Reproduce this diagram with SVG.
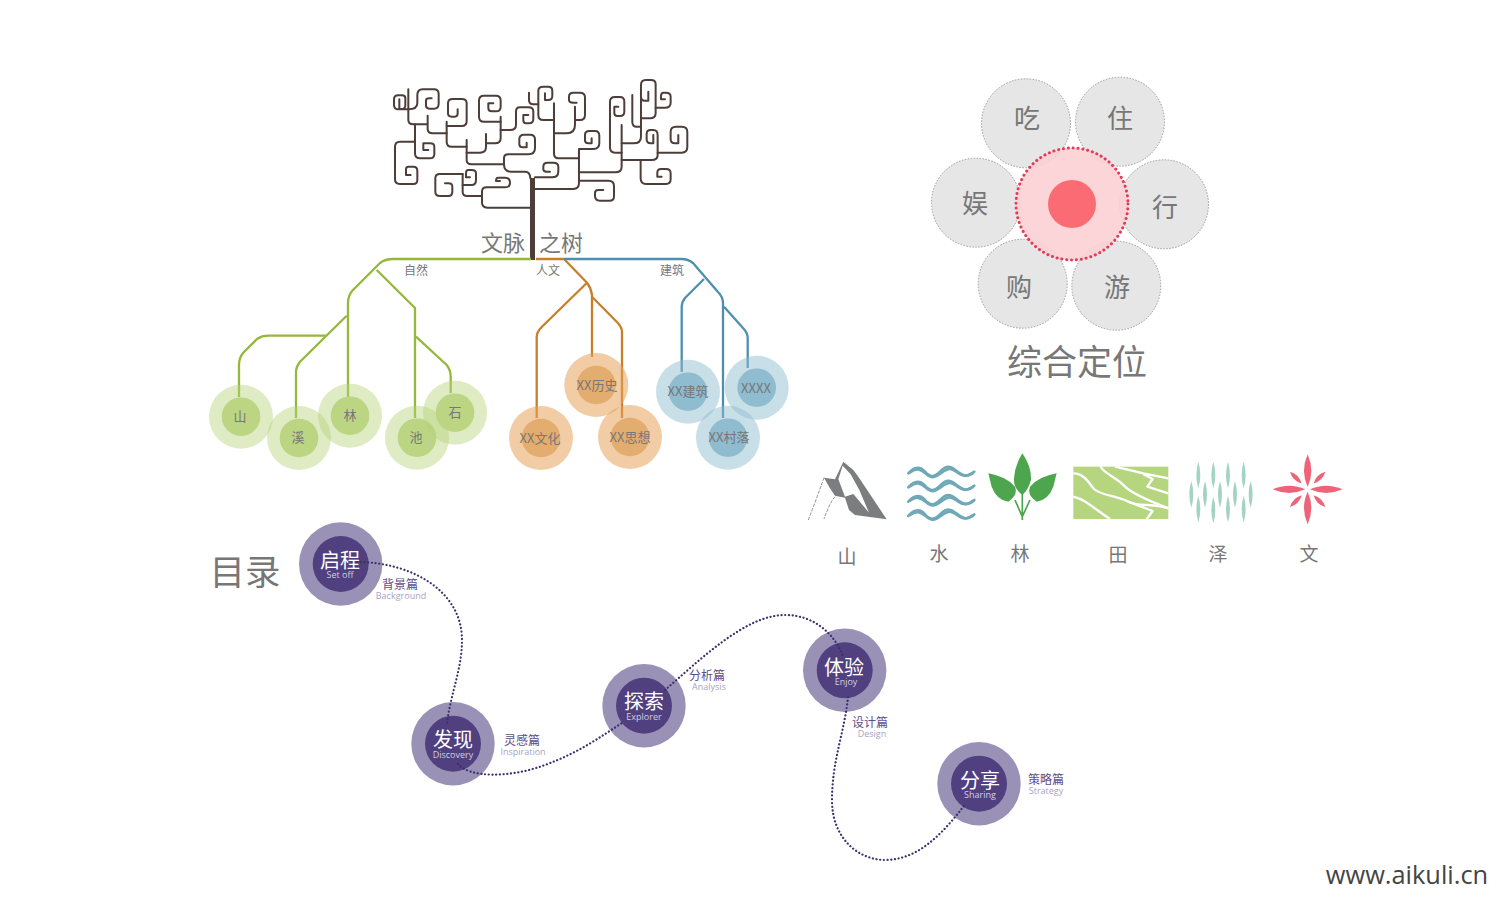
<svg xmlns="http://www.w3.org/2000/svg" xmlns:xlink="http://www.w3.org/1999/xlink" width="1500" height="900" viewBox="0 0 1500 900">
<style>
text{font-family:"Noto Sans CJK SC","Noto Sans",sans-serif;text-anchor:middle;dominant-baseline:central;fill:#777;transform:translateY(-1.500px)}
.tree path{fill:none;stroke:#4d3e3a;stroke-width:6;stroke-linecap:round;stroke-linejoin:round}
.line{fill:none;stroke-width:2.300;stroke-linejoin:round}
.g{stroke:#94b83a}.o{stroke:#c77f2a}.b{stroke:#4d90ad}
.go{fill:#b5d27a;opacity:.45}.gi{fill:#bbd583}
.oo{fill:#e6a25a;opacity:.55}.oi{fill:#e3ad6f}
.bo{fill:#8fbccf;opacity:.48}.bi{fill:#8fbccf}
.pet{fill:#e6e6e6;stroke:#999;stroke-width:1;stroke-dasharray:1.500 1.500}
.t13{font-size:13px}.t12{font-size:12px}.t26{font-size:26px}.t19{font-size:19px}
.po{fill:#9a92b6}.pi{fill:#50407f}
.pm{font-size:20px;fill:#fff}.ps{font-family:"Open Sans","Noto Sans",sans-serif;font-size:9px;fill:#d3cfe2}
.pl{font-size:12px;fill:#5d4e8b}.pe{font-family:"Open Sans","Noto Sans",sans-serif;font-size:9px;fill:#a8a3c3}
.dot{fill:none;stroke:#3b2f6e;stroke-width:2.200;stroke-linecap:round;stroke-dasharray:.1 3.600}
.fw{fill:none;stroke:#fff;stroke-width:7;stroke-linejoin:round}
.wv{fill:none;stroke:#6fa9b8;stroke-width:8;stroke-linecap:round}
</style>
<defs>
<path id="lens" d="M0-40Q12 0 0 40Q-12 0 0-40Z" fill="#a3d3c2"/>
<path id="wave" d="M325 85C345 62 362 65 375 80S400 100 420 80S450 62 470 78S505 98 523 80"/>
<path id="wave2" d="M330 82C348 68 362 72 378 86S402 100 424 84S452 68 474 84S506 90 520 82"/>
<path id="petal" d="M0-105Q22-55 0-7Q-22-55 0-105Z" fill="#ee6377"/>
<path id="petalS" d="M0-75Q14-50 0-25Q-14-50 0-75Z" fill="#ee6377"/>
</defs>

<g id="tree" class="tree" transform="translate(380 70) scale(.3333)">
<path d="M85 58V150Q85 163 100 163H143M143 137V178Q143 190 158 190H200"/>
<path d="M85 118H55Q42 118 42 104V88Q42 76 55 76H66Q76 76 76 84V105Q76 117 66 117H58V88"/>
<path d="M85 118Q112 118 112 100V75Q112 58 128 58H162Q176 58 176 72V102Q176 116 162 116H148Q138 116 138 106V92Q138 85 148 85H155"/>
<path d="M105 163V250Q105 265 120 265H150Q163 265 163 252V230Q163 220 150 220H130V240H145"/>
<path d="M105 215H60Q45 215 45 230V328Q45 342 60 342H100Q112 342 112 330V302Q112 290 100 290H85Q78 290 78 298V315H92"/>
<path d="M200 155V215Q200 230 215 230H260"/>
<path d="M200 168H245Q260 168 260 153V100Q260 87 245 87H218Q204 87 204 100V130Q204 140 215 140H225Q233 140 233 130V118"/>
<path d="M260 210V270Q260 283 275 283H372"/>
<path d="M260 248H300Q318 248 318 232V192M318 220H345Q362 220 362 205V140"/>
<path d="M362 155H312Q297 155 297 140V92Q297 77 312 77H348Q362 77 362 92V110Q362 124 348 124H335Q325 124 325 114V100H340"/>
<path d="M362 180H390Q408 180 408 165V125Q408 112 420 112H445Q460 112 460 125V148Q460 160 447 160H438Q430 160 430 150V135H445"/>
<path d="M372 283V265Q372 253 385 253H445Q465 253 465 235V208Q465 194 450 194H432Q418 194 418 208V222Q418 232 428 232H440V218"/>
<path d="M372 283Q372 305 392 305H435Q451 305 451 325"/>
<path d="M465 322H515Q535 322 535 305V290Q535 278 520 278H502Q490 278 490 290V298Q490 305 500 305H510"/>
<path d="M451 413H322Q306 413 306 397V365Q306 352 320 352H375Q390 352 390 338Q390 323 375 323H355Q348 323 348 333H360"/>
<path d="M306 378H262Q248 378 248 365V312"/>
<path d="M248 312H180Q166 312 166 325V365Q166 378 180 378H205Q217 378 217 365V350Q217 340 205 340H195"/>
<path d="M248 345H275Q288 345 288 330V310Q288 300 275 300H265Q258 300 258 310V322H270"/>
<path d="M465 357H580Q597 357 597 340V237H640Q658 237 658 220V197Q658 183 645 183H628Q615 183 615 195V210Q615 220 625 220H635V205"/>
<path d="M597 265H535Q522 265 522 250V100"/>
<path d="M522 190H560Q585 190 585 165V110"/>
<path d="M585 150H600Q615 150 615 135V82Q615 68 600 68H580Q567 68 567 80V90Q567 98 580 98H590"/>
<path d="M522 150H490Q475 150 475 135V62Q475 50 490 50H505Q517 50 517 62V78Q517 90 505 90H495V70"/>
<path d="M475 103H460Q447 103 447 90V68"/>
<path d="M597 307H705Q725 307 725 290V165"/>
<path d="M725 248H705Q690 248 690 232V95Q690 81 705 81H720Q733 81 733 95V125Q733 138 720 138H712Q703 138 703 128V110H715"/>
<path d="M725 220H760Q783 220 783 200V80"/>
<path d="M783 170H770Q757 170 757 155V75"/>
<path d="M783 145H810Q827 145 827 130V42Q827 30 813 30H797Q783 30 783 45V80Q783 92 795 92H805V65"/>
<path d="M827 113H855Q872 113 872 98V80Q872 68 858 68H850Q843 68 843 80V88H855"/>
<path d="M597 332H685Q702 332 702 348V380Q702 392 688 392H660Q645 392 645 378V370Q645 360 655 360H670"/>
<path d="M725 270H815Q833 270 833 255V195Q833 180 820 180H812Q800 180 800 192V208Q800 220 812 220H820V195"/>
<path d="M833 248H905Q922 248 922 232V185Q922 170 905 170H888Q872 170 872 185V208Q872 220 885 220H895V195"/>
<path d="M782 270V325Q782 342 798 342H858Q872 342 872 328V310Q872 297 858 297H843Q832 297 832 308V320H845"/>
</g>
<rect id="trunk" x="530" y="178" width="5" height="82" fill="#4d3e3a"/>
<g id="tree-title"><text x="503" y="242" font-size="22">文脉</text><text x="561" y="242" font-size="22">之树</text></g>

<g id="connectors">
<path class="line g" d="M531 259H393Q385 259 380 263L353 290Q348 295 348 303V397"/>
<path class="line g" d="M376.700 270L415 308V418"/>
<path class="line g" d="M416 336.700L446.700 365Q450.700 370 450.700 377V393"/>
<path class="line g" d="M346.700 315.700L300 361.700Q296 367 296 372V418"/>
<path class="line g" d="M326 335.700H268Q262 335.700 257 339L243 353Q239 358 239 365V397"/>
<path class="line o" d="M536 259H564L587 282.700Q591 288 592 295V357"/>
<path class="line o" d="M587 282.700L541.700 327Q536.700 332 536.700 337V418"/>
<path class="line o" d="M592 296.700L616.700 321.700Q622 327 622 332V418"/>
<path class="line b" d="M564 259H681.700Q688 259 693 263L718 292Q723 297 723 303V418"/>
<path class="line b" d="M704 279L685 298Q681.700 302 681.700 307V372"/>
<path class="line b" d="M724 306.700L743 328Q747.700 333 747.700 338V368"/>
</g>
<g id="cat-labels"><text class="t12" x="416" y="271">自然</text><text class="t12" x="548" y="271">人文</text><text class="t12" x="672" y="271">建筑</text></g>

<g id="n-shan"><circle class="go" cx="241" cy="416.700" r="32"/><circle class="gi" cx="241" cy="416.700" r="19.300"/><text class="t13" x="240" y="417">山</text></g>
<g id="n-xi"><circle class="go" cx="299" cy="438" r="32"/><circle class="gi" cx="299" cy="438" r="19.300"/><text class="t13" x="298" y="438">溪</text></g>
<g id="n-lin"><circle class="go" cx="350" cy="415.700" r="32"/><circle class="gi" cx="350" cy="415.700" r="19.300"/><text class="t13" x="350" y="416">林</text></g>
<g id="n-chi"><circle class="go" cx="417" cy="437.700" r="32"/><circle class="gi" cx="417" cy="437.700" r="19.300"/><text class="t13" x="416" y="438">池</text></g>
<g id="n-shi"><circle class="go" cx="455" cy="412.700" r="32"/><circle class="gi" cx="455" cy="412.700" r="19.300"/><text class="t13" x="455" y="413">石</text></g>
<g id="n-lishi"><circle class="oo" cx="596.300" cy="385" r="32"/><circle class="oi" cx="596.300" cy="385" r="19.300"/><text class="t13" x="597" y="386">XX历史</text></g>
<g id="n-wenhua"><circle class="oo" cx="541" cy="438" r="32"/><circle class="oi" cx="541" cy="438" r="19.300"/><text class="t13" x="540" y="439">XX文化</text></g>
<g id="n-sixiang"><circle class="oo" cx="630" cy="437" r="32"/><circle class="oi" cx="630" cy="437" r="19.300"/><text class="t13" x="630" y="438">XX思想</text></g>
<g id="n-jianzhu"><circle class="bo" cx="688" cy="391.700" r="32"/><circle class="bi" cx="688" cy="391.700" r="19.300"/><text class="t13" x="688" y="392">XX建筑</text></g>
<g id="n-xxxx"><circle class="bo" cx="756.700" cy="387.700" r="32"/><circle class="bi" cx="756.700" cy="387.700" r="19.300"/><text class="t13" x="756" y="389">XXXX</text></g>
<g id="n-cunluo"><circle class="bo" cx="728" cy="437.700" r="32"/><circle class="bi" cx="728" cy="437.700" r="19.300"/><text class="t13" x="729" y="438">XX村落</text></g>

<g id="p-chi"><circle class="pet" cx="1026" cy="123.300" r="44.500"/><text class="t26" x="1027" y="118">吃</text></g>
<g id="p-zhu"><circle class="pet" cx="1120" cy="121.700" r="44.500"/><text class="t26" x="1120" y="118">住</text></g>
<g id="p-yu"><circle class="pet" cx="976" cy="202.700" r="44.500"/><text class="t26" x="975" y="203">娱</text></g>
<g id="p-xing"><circle class="pet" cx="1164" cy="204.300" r="44.500"/><text class="t26" x="1165" y="207">行</text></g>
<g id="p-gou"><circle class="pet" cx="1022.700" cy="283.700" r="44.500"/><text class="t26" x="1019" y="287">购</text></g>
<g id="p-you"><circle class="pet" cx="1116.300" cy="285.700" r="44.500"/><text class="t26" x="1117" y="287">游</text></g>
<g id="p-center">
<circle cx="1072" cy="204" r="56" fill="#fbd0d4" fill-opacity=".9" stroke="#e63a5a" stroke-width="3" stroke-linecap="round" stroke-dasharray=".1 4.800"/>
<circle cx="1072" cy="204" r="24" fill="#fb6b73"/>
</g>
<text id="pos-title" x="1077" y="361" font-size="35">综合定位</text>

<g id="sym-shan" transform="translate(800 445) scale(.3333)">
<path d="M72 98L105 103L130 50L160 75L175 95L260 223L165 210L147 195L135 158L105 152L90 130Z" fill="#7b7d7e"/>
<path d="M128 62L115 103L135 155L160 147L207 203L178 135L152 88Z" fill="#fff"/>
<path d="M72 98Q50 160 25 225M105 155Q88 175 72 222" fill="none" stroke="#777" stroke-width="2.500" stroke-dasharray="10 4"/>
</g>
<g id="sym-shui" class="wv" transform="translate(800 445) scale(.3333)">
<use href="#wave"/><use href="#wave2"/>
<use href="#wave" y="42"/><use href="#wave2" y="42"/>
<use href="#wave" y="85"/><use href="#wave2" y="85"/>
<use href="#wave" y="128"/><use href="#wave2" y="128"/>
</g>
<g id="sym-lin" transform="translate(800 445) scale(.3333)">
<path d="M667 25Q695 65 693 105Q685 135 667 150Q640 130 642 100Q645 60 667 25Z" fill="#4da64d"/>
<path d="M565 85Q620 95 645 125Q655 150 625 170Q590 165 575 125Z" fill="#4da64d"/>
<path d="M770 85Q715 95 690 125Q680 150 710 170Q745 165 760 125Z" fill="#4da64d"/>
<path d="M667 225V135M667 215L645 165M667 215L690 165" fill="none" stroke="#4da64d" stroke-width="5"/>
</g>
<g id="sym-tian" transform="translate(1070 445) scale(.3333)">
<rect x="10" y="65" width="285" height="157" fill="#b5d67f"/>
<path class="fw" d="M10 85C40 85 55 110 70 130C85 150 150 155 175 170C195 185 260 175 295 190"/>
<path class="fw" d="M92 65C100 85 145 100 165 125C185 145 230 165 295 190"/>
<path class="fw" d="M10 155C50 165 70 190 120 222"/>
<path class="fw" d="M135 65L220 85L295 100M220 88L248 102L232 125L295 145"/>
<path class="fw" d="M175 170L248 198L230 222"/>
</g>
<g id="sym-ze" transform="translate(1070 445) scale(.3333)">
<use href="#lens" x="385" y="90"/><use href="#lens" x="430" y="90"/><use href="#lens" x="474" y="90"/><use href="#lens" x="521" y="90"/>
<use href="#lens" x="364" y="148"/><use href="#lens" x="405" y="148"/><use href="#lens" x="450" y="148"/><use href="#lens" x="495" y="148"/><use href="#lens" x="542" y="148"/>
<use href="#lens" x="385" y="192"/><use href="#lens" x="430" y="195"/><use href="#lens" x="474" y="192"/><use href="#lens" x="521" y="192"/>
</g>
<g id="sym-wen" transform="translate(1070 445) scale(.3333) translate(713 133)">
<use href="#petal"/><use href="#petal" transform="rotate(90)"/><use href="#petal" transform="rotate(180)"/><use href="#petal" transform="rotate(270)"/>
<use href="#petalS" transform="rotate(45)"/><use href="#petalS" transform="rotate(135)"/><use href="#petalS" transform="rotate(225)"/><use href="#petalS" transform="rotate(315)"/>
</g>
<g id="sym-labels"><text class="t19" x="847" y="557">山</text><text class="t19" x="939" y="554">水</text><text class="t19" x="1020" y="554">林</text><text class="t19" x="1118" y="555">田</text><text class="t19" x="1218" y="554">泽</text><text class="t19" x="1309" y="554">文</text></g>

<text id="toc-title" x="245" y="571" font-size="35.500">目录</text>

<g id="s-qicheng"><circle class="po" cx="340.700" cy="564" r="41.700"/><circle class="pi" cx="340.700" cy="564" r="28"/><text class="pm" x="340" y="561">启程</text><text class="ps" x="340" y="576">Set off</text></g>
<g id="s-faxian"><circle class="po" cx="453" cy="743.700" r="41.700"/><circle class="pi" cx="453" cy="743.700" r="28"/><text class="pm" x="453" y="740">发现</text><text class="ps" x="453" y="756">Discovery</text></g>
<g id="s-tansuo"><circle class="po" cx="644" cy="705.700" r="41.700"/><circle class="pi" cx="644" cy="705.700" r="28"/><text class="pm" x="644" y="702">探索</text><text class="ps" x="644" y="718">Explorer</text></g>
<g id="s-tiyan"><circle class="po" cx="844.700" cy="670.300" r="41.700"/><circle class="pi" cx="844.700" cy="670.300" r="28"/><text class="pm" x="844" y="668">体验</text><text class="ps" x="846" y="683">Enjoy</text></g>
<g id="s-fenxiang"><circle class="po" cx="979" cy="783.700" r="41.700"/><circle class="pi" cx="979" cy="783.700" r="28"/><text class="pm" x="980" y="781">分享</text><text class="ps" x="980" y="796">Sharing</text></g>

<g id="path-dotted">
<path class="dot" d="M357 562C410 562 462 590 462 640C462 670 450 695 447 724"/>
<path class="dot" d="M458 764C470 778 510 778 545 765C580 752 600 737 622 723"/>
<path class="dot" d="M665 690C700 660 745 615 785 615C815 615 835 635 843 656"/>
<path class="dot" d="M848 697C845 730 832 760 832 800C832 840 860 860 885 860C920 860 945 830 964 806"/>
</g>

<g id="s-labels">
<text class="pl" x="400" y="585">背景篇</text><text class="pe" x="401" y="597">Background</text>
<text class="pl" x="522" y="741">灵感篇</text><text class="pe" x="523" y="753">Inspiration</text>
<text class="pl" x="707" y="676">分析篇</text><text class="pe" x="709" y="688">Analysis</text>
<text class="pl" x="870" y="723">设计篇</text><text class="pe" x="872" y="735">Design</text>
<text class="pl" x="1046" y="780">策略篇</text><text class="pe" x="1046" y="792">Strategy</text>
</g>
<text id="watermark" x="1407" y="875" font-size="25.400" style="font-family:'Open Sans','Noto Sans',sans-serif;fill:#444">www.aikuli.cn</text>
</svg>
